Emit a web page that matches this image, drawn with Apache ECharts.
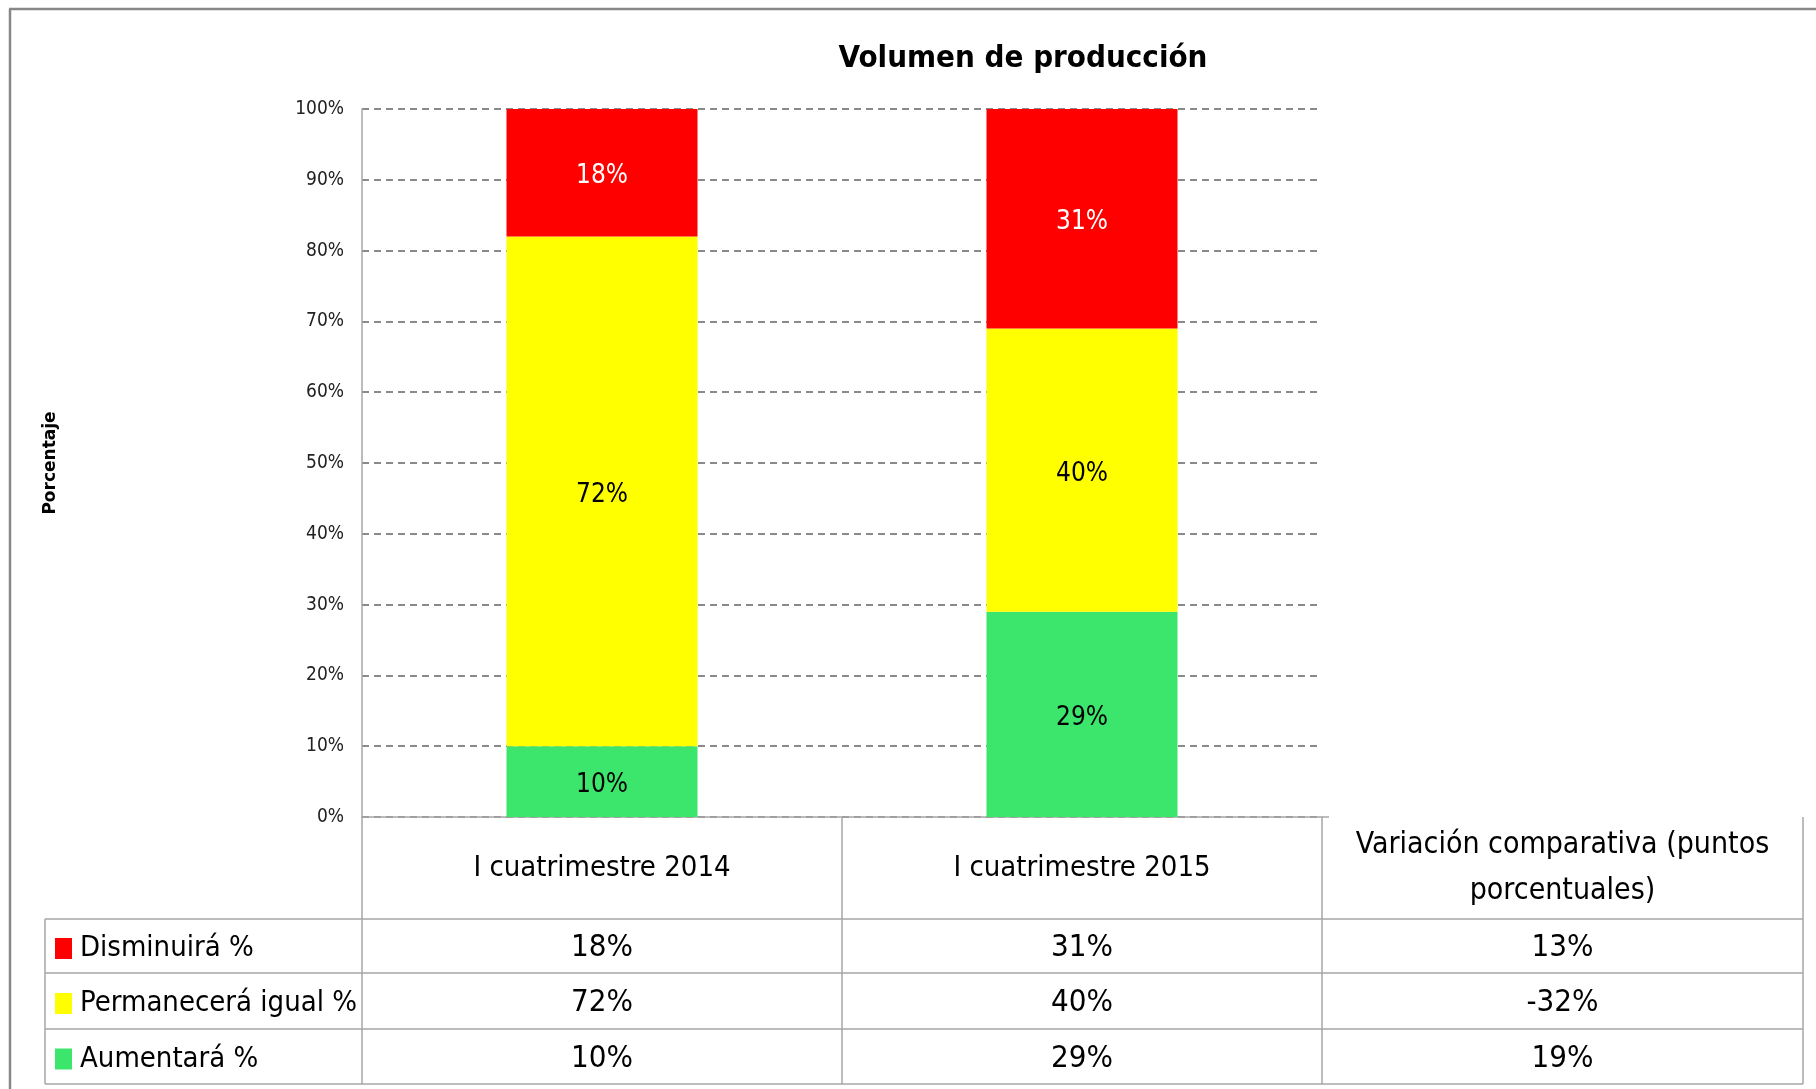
<!DOCTYPE html>
<html>
<head>
<meta charset="utf-8">
<title>Volumen de producción</title>
<script src="https://cdn.jsdelivr.net/npm/echarts@6/dist/echarts.min.js"></script>
<style>
  html, body { margin: 0; padding: 0; background: #fff; }
  #charts { width: 1816px; height: 1089px; }
</style>
</head>
<body>
<div id="charts"></div>
<script>
var categories = ['I cuatrimestre 2014', 'I cuatrimestre 2015'];
var seriesNames = ['Disminuirá %', 'Permanecerá igual %', 'Aumentará %'];
var disminuira = [18, 31];
var permanecera = [72, 40];
var aumentara = [10, 29];
var variacion = [13, -32, 19];
var variacionTitle = 'Variación comparativa (puntos\nporcentuales)';
var yTicks = [0, 10, 20, 30, 40, 50, 60, 70, 80, 90, 100];

var font = '"Liberation Sans Narrow", "DejaVu Sans Condensed", sans-serif';

var chartDom = document.getElementById('charts');
var myChart = echarts.init(chartDom);

// table geometry
var colX = [45, 362, 842, 1322, 1803];
var rowY = [817, 919, 973, 1029, 1084];
var lineStyle = { stroke: '#a6a6a6', lineWidth: 1.5 };

var graphics = [];
function hline(x1, x2, y) {
  graphics.push({ type: 'line', shape: { x1: x1, y1: y, x2: x2, y2: y }, style: lineStyle, silent: true });
}
function vline(x, y1, y2) {
  graphics.push({ type: 'line', shape: { x1: x, y1: y1, x2: x, y2: y2 }, style: lineStyle, silent: true });
}
function cellText(txt, cx, cy, size) {
  graphics.push({
    type: 'text', x: cx, y: cy, silent: true,
    style: { text: txt, fill: '#000', font: size + 'px ' + font, align: 'center', verticalAlign: 'middle', lineHeight: 46 }
  });
}

// outer frame
graphics.push({ type: 'line', shape: { x1: 9, y1: 9, x2: 1816, y2: 9 }, style: { stroke: '#888', lineWidth: 2.5 }, silent: true });
graphics.push({ type: 'line', shape: { x1: 10, y1: 9, x2: 10, y2: 1089 }, style: { stroke: '#888', lineWidth: 2.5 }, silent: true });

// table lines
hline(colX[3], colX[3] + 7, rowY[0]);
for (var r = 1; r < rowY.length; r++) hline(colX[0], colX[4], rowY[r]);
vline(colX[0], rowY[1], rowY[4]);
for (var c = 1; c < colX.length; c++) vline(colX[c], rowY[0], rowY[4]);

// table values
var cols = [
  [disminuira[0], permanecera[0], aumentara[0]],
  [disminuira[1], permanecera[1], aumentara[1]],
  variacion
];
cols.forEach(function (vals, ci) {
  var cx = (colX[ci + 1] + colX[ci + 2]) / 2;
  vals.forEach(function (v, ri) {
    cellText(v + '%', cx, (rowY[ri + 1] + rowY[ri + 2]) / 2 + 2, 31);
  });
});
cellText(variacionTitle, (colX[3] + colX[4]) / 2, (rowY[0] + rowY[1]) / 2, 30);

// one legend per table row, in the first column
var legends = seriesNames.map(function (name, i) {
  return {
    data: [name],
    left: 55,
    top: (rowY[i + 1] + rowY[i + 2]) / 2 - 12,
    padding: 0,
    itemWidth: 17, itemHeight: 21,
    icon: 'rect',
    textStyle: { fontFamily: font, fontSize: 29, lineHeight: 24, color: '#000', padding: [0, 0, 0, 3] },
    selectedMode: false
  };
});

function barLabel(color) {
  return {
    show: true, position: 'inside', formatter: '{c}%', offset: [0, 4],
    color: color, fontSize: 26, fontFamily: font
  };
}

var option = {
  animation: false,
  title: {
    text: 'Volumen de producción',
    left: 1018, top: 38, textAlign: 'center',
    textStyle: { fontFamily: font, fontSize: 31, fontWeight: 'bold', color: '#000' }
  },
  legend: legends,
  grid: { left: 362, top: 109, width: 960, height: 708 },
  xAxis: {
    type: 'category',
    data: categories,
    axisLine: { show: true, lineStyle: { color: '#a6a6a6', width: 1.5 } },
    axisTick: { show: false },
    axisLabel: { margin: 34, fontFamily: font, fontSize: 29, color: '#000', lineHeight: 34 }
  },
  yAxis: {
    type: 'value',
    min: yTicks[0], max: yTicks[yTicks.length - 1], interval: 10,
    name: 'Porcentaje',
    nameLocation: 'middle',
    nameGap: 303,
    nameTextStyle: { fontFamily: 'DejaVu Sans', fontWeight: 'bold', fontSize: 17, color: '#000' },
    axisLine: { show: true, lineStyle: { color: '#a6a6a6', width: 1.5 } },
    axisTick: { show: false },
    axisLabel: { formatter: '{value}%', margin: 18, fontFamily: font, fontSize: 19, color: '#222' },
    splitLine: { show: true, lineStyle: { color: '#8a8a8a', width: 2, type: [7, 5] } }
  },
  graphic: graphics,
  series: [
    { name: seriesNames[2], type: 'bar', stack: 'total', barWidth: 191, data: aumentara,
      itemStyle: { color: '#3ce66c' }, label: barLabel('#000') },
    { name: seriesNames[1], type: 'bar', stack: 'total', barWidth: 191, data: permanecera,
      itemStyle: { color: '#ffff00' }, label: barLabel('#000') },
    { name: seriesNames[0], type: 'bar', stack: 'total', barWidth: 191, data: disminuira,
      itemStyle: { color: '#ff0000' }, label: barLabel('#fff') }
  ]
};

option && myChart.setOption(option);
</script>
</body>
</html>
